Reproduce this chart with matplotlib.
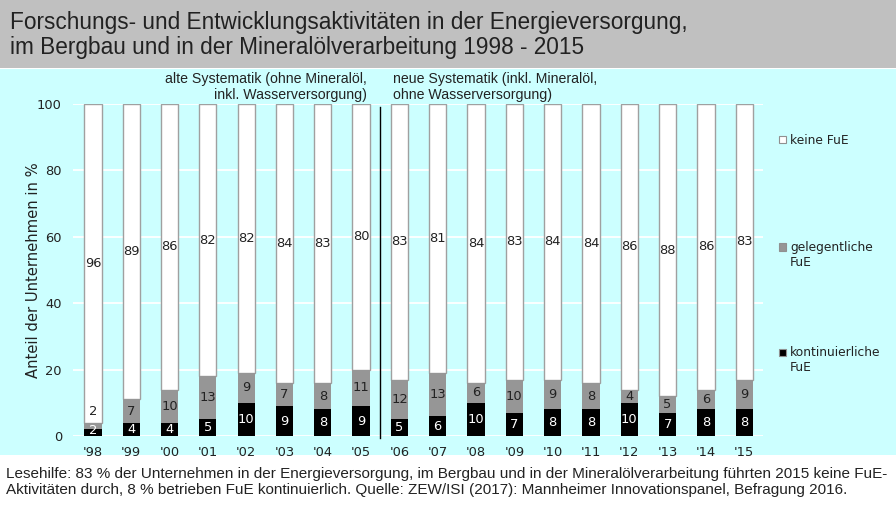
import numpy as np
import matplotlib
matplotlib.use("Agg")
from matplotlib import pyplot as plt
from matplotlib.patches import Rectangle

# data
years = ["'98", "'99", "'00", "'01", "'02", "'03", "'04", "'05", "'06",
         "'07", "'08", "'09", "'10", "'11", "'12", "'13", "'14", "'15"]
kontinuierlich = [2, 4, 4, 5, 10, 9, 8, 9, 5, 6, 10, 7, 8, 8, 10, 7, 8, 8]
gelegentlich = [2, 7, 10, 13, 9, 7, 8, 11, 12, 13, 6, 10, 9, 8, 4, 5, 6, 9]
keine = [96, 89, 86, 82, 82, 84, 83, 80, 83, 81, 84, 83, 84, 84, 86, 88, 86, 83]
yticks = [0, 20, 40, 60, 80, 100]

CYAN = "#CCFFFF"
GREY = "#969696"
W, H = 896, 511
narrow = ["Liberation Sans", "DejaVu Sans"]

fig = plt.figure(figsize=(W / 100, H / 100), dpi=100)
fig.patch.set_facecolor("white")

# background bands: grey title, cyan chart, white footer
fig.patches.append(Rectangle((0, (H - 68) / H), 1, 68 / H, transform=fig.transFigure,
                             facecolor="#C0C0C0", edgecolor="none", zorder=-5))
fig.patches.append(Rectangle((0, (H - 455) / H), 1, (455 - 69) / H, transform=fig.transFigure,
                             facecolor=CYAN, edgecolor="none", zorder=-5))

fig.text(10 / W, 1 - 35 / H, "Forschungs- und Entwicklungsaktivitäten in der Energieversorgung,\n"
         "im Bergbau und in der Mineralölverarbeitung 1998 - 2015",
         family=narrow, fontsize=16.3, color="#222222", va="center", ha="left", linespacing=1.12)
fig.text(6 / W, 1 - 482 / H, "Lesehilfe: 83 % der Unternehmen in der Energieversorgung, im Bergbau und in der "
         "Mineralölverarbeitung führten 2015 keine FuE-\nAktivitäten durch, 8 % betrieben FuE kontinuierlich. "
         "Quelle: ZEW/ISI (2017): Mannheimer Innovationspanel, Befragung 2016.",
         family=narrow, fontsize=10.95, color="#222222", va="center", ha="left", linespacing=1.2)

ax = fig.add_axes([73 / W, (H - 436) / H, 690 / W, 332 / H])
ax.set_facecolor(CYAN)
for s in ax.spines.values():
    s.set_visible(False)

x = np.arange(len(years))
k = np.array(kontinuierlich)
g = np.array(gelegentlich)
bw = 0.45
ax.bar(x, k, bw, color="black", zorder=3)
ax.bar(x, g, bw, bottom=k, color=GREY, zorder=3)
# white segment fills up to 100 (rounded shares do not always add up)
ax.bar(x, 100 - k - g, bw, bottom=k + g, color="white", edgecolor="#A0A0A0",
       linewidth=1, zorder=2)

lab = dict(ha="center", va="center", fontsize=9.4, zorder=5)
for i in range(len(years)):
    ax.text(x[i], k[i] / 2 + (0.8 if k[i] < 3 else 0), str(k[i]), color="white", **lab)
    yg = k[i] + g[i] / 2
    if g[i] < 3:
        yg = k[i] + g[i] + 3.5
    ax.text(x[i], yg, str(g[i]), color="#222222", **lab)
    ax.text(x[i], k[i] + g[i] + (100 - k[i] - g[i]) / 2, str(keine[i]), color="#222222", **lab)

ax.set_xlim(-0.52, 17.49)
ax.set_ylim(0, 100)
ax.set_yticks(yticks)
ax.set_xticks(x)
ax.set_xticklabels(years)
ax.tick_params(length=0, labelsize=9.4, colors="#222222")
ax.tick_params(axis="y", pad=8)
ax.tick_params(axis="x", pad=7)
ax.grid(axis="y", color="white", linewidth=1.3, zorder=1)
ax.set_axisbelow(True)
ax.set_ylabel("Anteil der Unternehmen in %", fontsize=10.6, color="#222222", labelpad=-3)

# divider between old and new classification
ax.plot([7.5, 7.5], [-0.7, 99], color="black", linewidth=1, clip_on=False, zorder=4)

fig.text(367 / W, 1 - 87 / H, "alte Systematik (ohne Mineralöl,\ninkl. Wasserversorgung)",
         family=narrow, fontsize=10.2, ha="right", va="center", multialignment="right",
         color="#222222", linespacing=1.15)
fig.text(393 / W, 1 - 87 / H, "neue Systematik (inkl. Mineralöl,\nohne Wasserversorgung)",
         family=narrow, fontsize=10.2, ha="left", va="center", multialignment="left",
         color="#222222", linespacing=1.15)

# legend on the right
legend_items = [("keine FuE", "white", 140), ("gelegentliche\nFuE", GREY, 255),
                ("kontinuierliche\nFuE", "black", 360)]
for label, col, ypix in legend_items:
    first = ypix if "\n" not in label else ypix - 8
    fig.patches.append(Rectangle((779 / W, 1 - (first + 3.5) / H), 7 / W, 7 / H,
                                 transform=fig.transFigure, facecolor=col,
                                 edgecolor="#909090", linewidth=0.8, zorder=3))
    fig.text(790 / W, 1 - ypix / H, label, fontsize=8.8, ha="left", va="center",
             color="#222222", linespacing=1.25)

fig.savefig("out.png", dpi=100)
